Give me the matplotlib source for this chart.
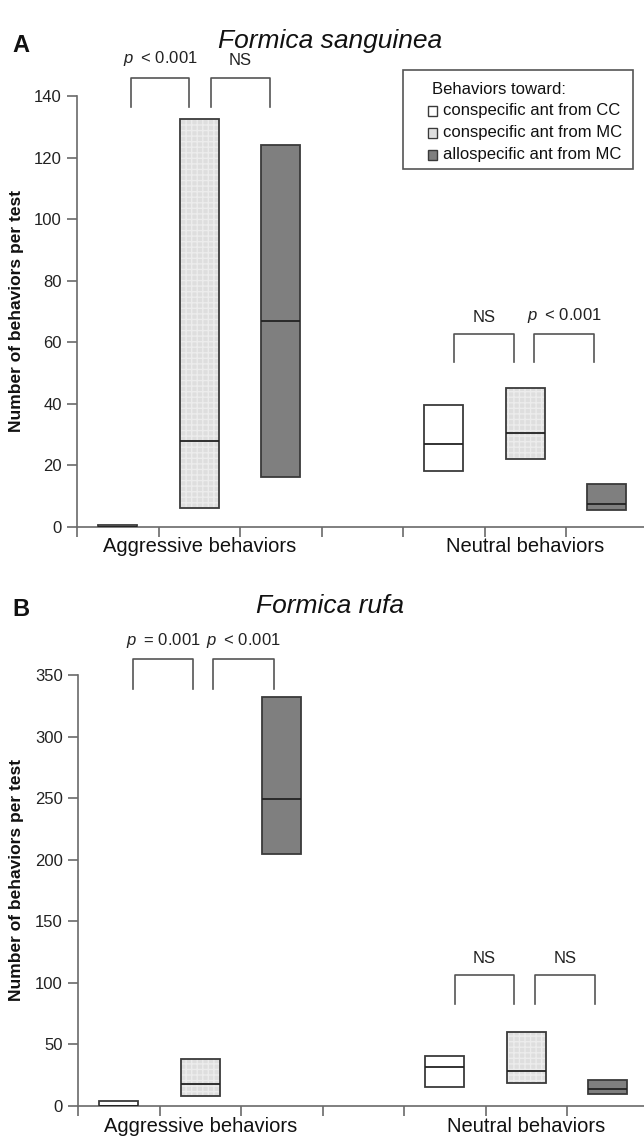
import matplotlib
matplotlib.use("Agg")
import matplotlib.pyplot as plt
from matplotlib.patches import Rectangle

plt.rcParams['font.family'] = ['Liberation Sans', 'DejaVu Sans']
plt.rcParams['mathtext.fontset'] = 'custom'
plt.rcParams['mathtext.it'] = 'Liberation Sans:italic'
plt.rcParams['mathtext.rm'] = 'Liberation Sans'

# box positions (slot index on the x axis) and groups
positions = [0.5, 1.5, 2.5, 4.5, 5.5, 6.5]
groups = ["Aggressive behaviors", "Neutral behaviors"]
group_pos = [1.5, 5.5]
series = ["conspecific ant from CC", "conspecific ant from MC", "allospecific ant from MC"]

# panel A: Formica sanguinea (low, median, high) per box
a_low = [0, 6, 16, 18, 22, 5.3]
a_med = [0, 28, 67, 27, 30.6, 7.5]
a_high = [0.5, 132.4, 124.2, 39.5, 45, 14]

# panel B: Formica rufa
b_low = [0, 8.5, 205, 15.7, 18.8, 9.5]
b_med = [0, 17.5, 249, 31.5, 28.8, 13.8]
b_high = [4.3, 37.8, 332.5, 40.3, 59.7, 21.4]

# significance brackets: (left, right, y_top, y_bottom, label)
a_brackets = [(0.66, 1.38, 146, 136.5, "$p$\u2009 < 0.001"),
              (1.64, 2.37, 146, 136.5, "NS"),
              (4.63, 5.36, 62.5, 53.5, "NS"),
              (5.61, 6.34, 62.5, 53.5, "$p$\u2009 < 0.001")]
b_brackets = [(0.68, 1.41, 363, 339, "$p$\u2009 = 0.001"),
              (1.66, 2.40, 363, 339, "$p$\u2009 < 0.001"),
              (4.62, 5.35, 106, 82.5, "NS"),
              (5.61, 6.34, 106, 82.5, "NS")]

faces = ['white', '#dedede', '#7f7f7f']
edge = '#3a3a3a'
spine_c = '#6a6a6a'

W, H = 644, 1136
fig = plt.figure(figsize=(W / 100, H / 100), dpi=100)


def fx(px):
    return px / W


def fy(py):
    return 1 - py / H


def draw_panel(rect, lows, meds, highs, brackets, ymax, ystep, letter, title, title_y, ylab_y):
    ax = fig.add_axes(rect)
    for i, x in enumerate(positions):
        k = i % 3
        h = highs[i] - lows[i]
        if k == 1:
            ax.bar(x, h, bottom=lows[i], width=0.48, color=faces[k], hatch='+++',
                   edgecolor='#ececec', linewidth=0, zorder=2)
            ax.bar(x, h, bottom=lows[i], width=0.48, fill=False, edgecolor=edge,
                   linewidth=1.3, zorder=3)
        else:
            ax.bar(x, h, bottom=lows[i], width=0.48, color=faces[k], edgecolor=edge,
                   linewidth=1.3, zorder=3)
        ax.hlines(meds[i], x - 0.24, x + 0.24, color='#222222', linewidth=1.3, zorder=4)
    for (x0, x1, yt, yb, lab) in brackets:
        ax.plot([x0, x0, x1, x1], [yb, yt, yt, yb], color='#555555', linewidth=1.2,
                clip_on=False, zorder=5)
        ax.text((x0 + x1) / 2, yt + ymax * 0.022, lab, ha='center', va='bottom',
                fontsize=12, color='#222222', clip_on=False)
    ax.set_xlim(0, 7)
    ax.set_ylim(0, ymax)
    ax.set_xticks(range(0, 8))
    ax.set_xticklabels([])
    ax.set_yticks(range(0, ymax + 1, ystep))
    for sp in ['top', 'right']:
        ax.spines[sp].set_visible(False)
    for sp in ['left', 'bottom']:
        ax.spines[sp].set_color(spine_c)
        ax.spines[sp].set_linewidth(1.2)
    ax.tick_params(axis='both', length=7, width=1.2, color=spine_c, labelsize=12,
                   labelcolor='#222222', pad=4)
    for g, gx in zip(groups, group_pos):
        ax.text(gx, -0.025, g, transform=ax.get_xaxis_transform(), ha='center', va='top',
                fontsize=14.5, color='#111111')
    fig.text(fx(17), fy(ylab_y), "Number of behaviors per test", rotation=90,
             ha='center', va='center', fontsize=12.5, fontweight='bold', color='#111111')
    fig.text(fx(12), fy(title_y), letter, ha='left', va='center', fontsize=17,
             fontweight='bold', color='#111111')
    fig.text(fx(330), fy(title_y - 4), title, ha='center', va='center', fontsize=19,
             style='italic', color='#111111')
    return ax


axA = draw_panel([fx(77), fy(526.7), 570.5 / W, 430.7 / H],
                 a_low, a_med, a_high, a_brackets, 140, 20, "A", "Formica sanguinea", 45, 311)
axB = draw_panel([fx(78), fy(1106), 570.5 / W, 431 / H],
                 b_low, b_med, b_high, b_brackets, 350, 50, "B", "Formica rufa", 610, 880)

# legend box for panel A, laid out by hand
fig.patches.append(Rectangle((fx(403), fy(169)), fx(633) - fx(403), fy(70) - fy(169),
                             transform=fig.transFigure, fill=False, edgecolor='#555555',
                             linewidth=1.2))
fig.text(fx(432), fy(90), "Behaviors toward:", ha='left', va='center', fontsize=12,
         color='#111111')
for k, (lab, row_y) in enumerate(zip(series, [111, 133, 155])):
    if k == 1:
        fig.patches.append(Rectangle((fx(428), fy(row_y + 4.5)), 9 / W, 9 / H,
                                     transform=fig.transFigure, facecolor=faces[k],
                                     hatch='++', edgecolor='#f2f2f2', linewidth=0))
        fig.patches.append(Rectangle((fx(428), fy(row_y + 4.5)), 9 / W, 9 / H,
                                     transform=fig.transFigure, fill=False,
                                     edgecolor=edge, linewidth=1))
    else:
        fig.patches.append(Rectangle((fx(428), fy(row_y + 4.5)), 9 / W, 9 / H,
                                     transform=fig.transFigure, facecolor=faces[k],
                                     edgecolor=edge, linewidth=1))
    fig.text(fx(443), fy(row_y), lab, ha='left', va='center', fontsize=12, color='#111111')

fig.savefig("out.png", dpi=100)
